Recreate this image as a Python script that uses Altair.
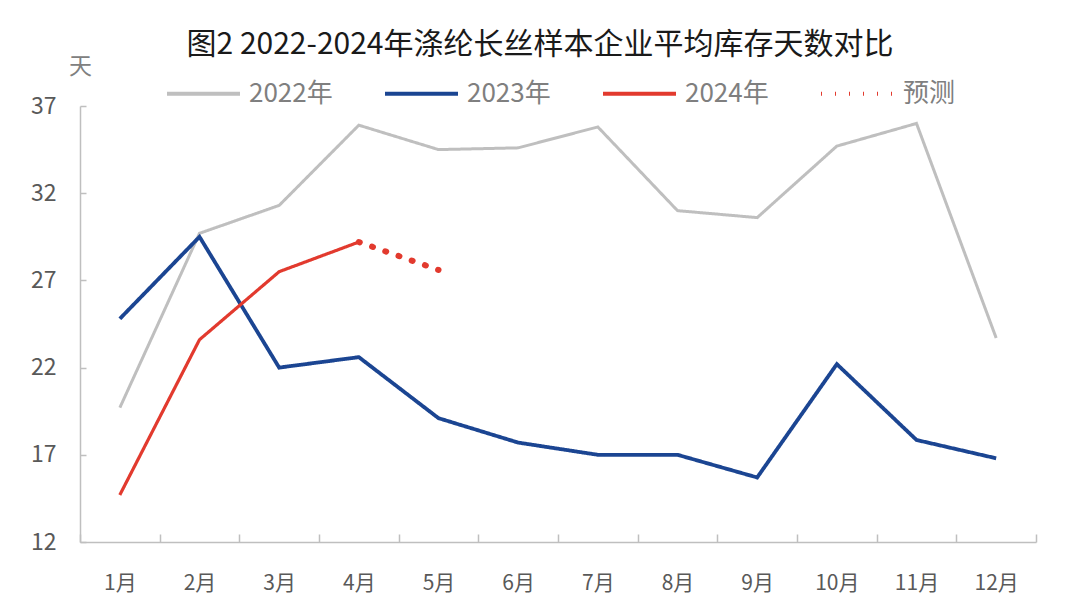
import altair as alt
import pandas as pd

months = ["1月", "2月", "3月", "4月", "5月", "6月", "7月", "8月", "9月", "10月", "11月", "12月"]
v2022 = [19.7, 29.7, 31.3, 35.9, 34.5, 34.6, 35.8, 31.0, 30.6, 34.7, 36.0, 23.7]
v2023 = [24.8, 29.5, 22.0, 22.6, 19.1, 17.7, 17.0, 17.0, 15.7, 22.2, 17.85, 16.8]
v2024 = [14.7, 23.6, 27.5, 29.2]
fc_months = ["4月", "5月"]
fc_values = [29.2, 27.6]

series_names = ["2022年", "2023年", "2024年", "预测"]
colors = ["#BFBFBF", "#1B4592", "#E23A2E", "#E23A2E"]
dashes = [[1, 0], [1, 0], [1, 0], [1, 13]]

def frame(name, ms, vals):
    return pd.DataFrame({"month": ms, "value": vals, "series": [name] * len(ms)})

df22 = frame("2022年", months, v2022)
df23 = frame("2023年", months, v2023)
df24 = frame("2024年", months[:len(v2024)], v2024)
dffc = frame("预测", fc_months, fc_values)

FONT = "Noto Sans CJK SC"

x = alt.X("month:N", sort=months,
          scale=alt.Scale(type="band", paddingInner=0, paddingOuter=0),
          axis=alt.Axis(title=None, tickBand="extent", tickSize={"expr": "-8"},
                        labelPadding=38, labelFontSize=21, labelColor="#595959",
                        labelFont=FONT, labelAngle=0))
y = alt.Y("value:Q", scale=alt.Scale(domain=[12, 37], nice=False, zero=False),
          axis=alt.Axis(values=[12, 17, 22, 27, 32, 37], tickSize={"expr": "-6"},
                        labelPadding=30, labelFontSize=23, labelColor="#595959",
                        labelFont=FONT, title="天", titleAngle=0, titleX=0, titleY=-40,
                        titleAlign="center", titleBaseline="middle", titleFontSize=23,
                        titleFontWeight="normal", titleColor="#808080", titleFont=FONT))

legend = alt.Legend(title=None, orient="none", direction="horizontal", legendX=85, legendY=-51)
color = alt.Color("series:N", scale=alt.Scale(domain=series_names, range=colors), legend=legend)
dash = alt.StrokeDash("series:N", scale=alt.Scale(domain=series_names, range=dashes), legend=legend)

def line(d, w, cap="butt"):
    return alt.Chart(d).mark_line(strokeWidth=w, strokeCap=cap).encode(
        x=x, y=y, color=color, strokeDash=dash)

chart = alt.layer(
    line(df22, 3), line(df23, 3.8), line(df24, 3.2), line(dffc, 6, "round")
).properties(
    width=956, height=436,
    autosize="none",
    padding={"left": 72, "top": 98, "right": 30, "bottom": 60},
    title=alt.Title("图2 2022-2024年涤纶长丝样本企业平均库存天数对比", font=FONT, fontSize=30,
                    fontWeight="normal", color="#1a1a1a", anchor="middle", dx=-18, offset=-5),
).configure_view(stroke=None).configure_axis(
    domainColor="#BFBFBF", domainWidth=1.5, tickColor="#BFBFBF", tickWidth=1.5, grid=False
).configure_legend(
    symbolType="stroke", symbolSize=5329, symbolStrokeWidth=4, labelFontSize=26,
    labelColor="#7F7F7F", labelFont=FONT, labelOffset=7, columnPadding=44
)

chart.save("out.html", embed_options={"renderer": "svg", "actions": False})
